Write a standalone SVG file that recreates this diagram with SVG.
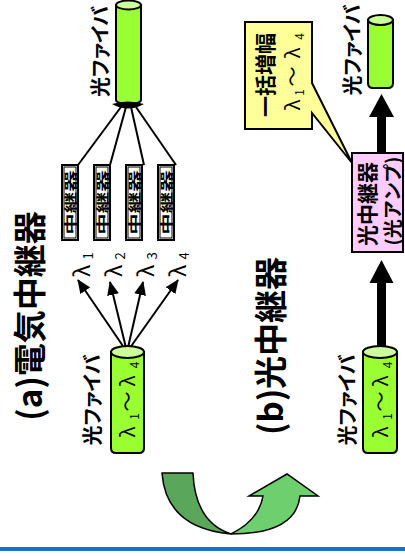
<svg xmlns="http://www.w3.org/2000/svg" width="405" height="556" viewBox="0 0 405 556">
<style>
text{font-family:"Noto Sans CJK JP","Noto Sans",sans-serif;fill:#000}
.title{font-size:33px;font-weight:bold}
.lbl{font-size:20px;font-weight:bold;font-feature-settings:"palt"}
.rel{font-size:13px;font-weight:bold}
.lam{font-size:20px}
.sub{font-size:12px}
.fiber{fill:#99ff33;stroke:#000;stroke-width:2}
.ftop{fill:#ccff99;stroke:#000;stroke-width:2}
.box{fill:#fff;stroke:#000;stroke-width:2}
.thin{fill:none;stroke:#000;stroke-width:1}
.ln{stroke:#000;stroke-width:2;fill:none}
</style>
<defs>
<marker id="ah" markerWidth="14" markerHeight="12" refX="13" refY="6" orient="auto" markerUnits="userSpaceOnUse">
<path d="M0,0 L14,6 L0,12 Z" fill="#000"/>
</marker>
</defs>
<rect width="405" height="556" fill="#fff"/>

<g id="titles">
<text class="title" transform="translate(41.5,316) rotate(-90)" text-anchor="middle">(a)電気中継器</text>
<text class="title" transform="translate(283,346) rotate(-90)" text-anchor="middle">(b)光中継器</text>
</g>

<g id="connectors">
<line class="ln" x1="121" y1="107" x2="78" y2="165"/>
<line class="ln" x1="126" y1="107" x2="110" y2="165"/>
<line class="ln" x1="131" y1="107" x2="144" y2="165"/>
<line class="ln" x1="136" y1="107" x2="176" y2="165"/>
<line class="ln" x1="127" y1="352" x2="78" y2="280" marker-end="url(#ah)"/>
<line class="ln" x1="127" y1="352" x2="110" y2="282" marker-end="url(#ah)"/>
<line class="ln" x1="127" y1="352" x2="143" y2="282" marker-end="url(#ah)"/>
<line class="ln" x1="127" y1="352" x2="178" y2="280" marker-end="url(#ah)"/>
<path d="M377,153 V117 H369 L381.5,94 L394,117 H386 V153 Z" fill="#000"/>
<path d="M377,348 V283 H369.5 L381.5,260 L393.5,283 H386 V348 Z" fill="#000"/>
</g>

<g id="fiber-a-top">
<path class="fiber" d="M116,5 V100 A12.5,4 0 0 0 141,100 V5 Z"/>
<ellipse class="ftop" cx="128.5" cy="5" rx="12.5" ry="4.5"/>
<path d="M112,104 Q128,99 144,104 Q128,113 112,104 Z" fill="#000"/>
<text class="lbl" transform="translate(107.5,51.5) rotate(-90)" text-anchor="middle">光ファイバ</text>
</g>

<g id="relays-a">
<rect class="box" x="62" y="165" width="16" height="75"/>
<rect class="thin" x="64" y="167" width="12" height="71"/>
<text class="rel" transform="translate(75,202.5) rotate(-90) scale(1.65,1)" text-anchor="middle">中継器</text>
<rect class="box" x="94" y="165" width="16" height="75"/>
<rect class="thin" x="96" y="167" width="12" height="71"/>
<text class="rel" transform="translate(107,202.5) rotate(-90) scale(1.65,1)" text-anchor="middle">中継器</text>
<rect class="box" x="126" y="165" width="16" height="75"/>
<rect class="thin" x="128" y="167" width="12" height="71"/>
<text class="rel" transform="translate(139,202.5) rotate(-90) scale(1.65,1)" text-anchor="middle">中継器</text>
<rect class="box" x="158" y="165" width="16" height="75"/>
<rect class="thin" x="160" y="167" width="12" height="71"/>
<text class="rel" transform="translate(171,202.5) rotate(-90) scale(1.65,1)" text-anchor="middle">中継器</text>
</g>

<g id="lambda-labels">
<text transform="translate(89.5,277) rotate(-90)" text-anchor="middle"><tspan x="6" y="0" style="font-size:22px">λ</tspan><tspan x="21" y="3" style="font-size:13px">1</tspan></text>
<text transform="translate(121.5,277) rotate(-90)" text-anchor="middle"><tspan x="6" y="0" style="font-size:22px">λ</tspan><tspan x="21" y="3" style="font-size:13px">2</tspan></text>
<text transform="translate(153.5,277) rotate(-90)" text-anchor="middle"><tspan x="6" y="0" style="font-size:22px">λ</tspan><tspan x="21" y="3" style="font-size:13px">3</tspan></text>
<text transform="translate(185.5,277) rotate(-90)" text-anchor="middle"><tspan x="6" y="0" style="font-size:22px">λ</tspan><tspan x="21" y="3" style="font-size:13px">4</tspan></text>
</g>

<g id="fiber-a-bottom">
<path class="fiber" d="M111,352 V448 Q111,453 116,453 H139 Q144,453 144,448 V352 Z"/>
<ellipse class="ftop" cx="127.5" cy="352" rx="16.5" ry="6"/>
<text transform="translate(135,442) rotate(-90)" text-anchor="middle"><tspan class="lam" x="10" y="0">λ</tspan><tspan class="sub" x="25.5" y="4">1</tspan><tspan class="lam" x="40.5" y="0">〜</tspan><tspan class="lam" x="61" y="0">λ</tspan><tspan class="sub" x="77" y="4">4</tspan></text>
<text class="lbl" transform="translate(100,400) rotate(-90)" text-anchor="middle">光ファイバ</text>
</g>

<g id="fiber-b-top">
<path class="fiber" d="M368,20 V83 Q368,88 373,88 H388 Q393,88 393,83 V20 Z"/>
<ellipse class="ftop" cx="380.5" cy="20" rx="12.5" ry="5"/>
<text class="lbl" transform="translate(360,50) rotate(-90)" text-anchor="middle">光ファイバ</text>
</g>

<g id="amp-b">
<rect x="352" y="153" width="51" height="99" fill="#ffccff" stroke="#000" stroke-width="2"/>
<text transform="translate(375,204) rotate(-90)" text-anchor="middle" style="font-size:21px;font-weight:bold">光中継器</text>
<text transform="translate(400,201) rotate(-90)" text-anchor="middle" style="font-size:19px;font-weight:bold">(光アンプ)</text>
</g>

<g id="callout-b">
<path d="M245,22 H312 V83 L352,163 L312,113 V129 H245 Z" fill="#ffff99" stroke="#000" stroke-width="2" stroke-linejoin="miter"/>
<text transform="translate(272.5,75) rotate(-90)" text-anchor="middle" style="font-size:21px;font-weight:bold">一括増幅</text>
<text transform="translate(300,113) rotate(-90)" text-anchor="middle"><tspan class="lam" x="8" y="0">λ</tspan><tspan class="sub" x="20.5" y="4">1</tspan><tspan class="lam" x="36.5" y="0">〜</tspan><tspan class="lam" x="60" y="0">λ</tspan><tspan class="sub" x="76.5" y="4">4</tspan></text>
</g>

<g id="fiber-b-bottom">
<path class="fiber" d="M363,352 V448 Q363,453 368,453 H392 Q397,453 397,448 V352 Z"/>
<ellipse class="ftop" cx="380" cy="352" rx="17" ry="6"/>
<text transform="translate(387.5,442) rotate(-90)" text-anchor="middle"><tspan class="lam" x="10" y="0">λ</tspan><tspan class="sub" x="25.5" y="4">1</tspan><tspan class="lam" x="40.5" y="0">〜</tspan><tspan class="lam" x="61" y="0">λ</tspan><tspan class="sub" x="77" y="4">4</tspan></text>
<text class="lbl" transform="translate(354.5,400) rotate(-90)" text-anchor="middle">光ファイバ</text>
</g>

<g id="curved-arrow">
<path d="M162,473 H193 Q195,522 231,534 Q166,528 162,473 Z" fill="#5aa65a" stroke="#000" stroke-width="1.5" stroke-linejoin="round"/>
<path d="M231,534 Q259,520 263,496 H249 L287,474 L318,496 H300 Q296,534 231,534 Z" fill="#6dcf6d" stroke="#000" stroke-width="1.5" stroke-linejoin="miter"/>
</g>

<rect x="0" y="547" width="405" height="4" fill="#1a6fd0"/>
</svg>
